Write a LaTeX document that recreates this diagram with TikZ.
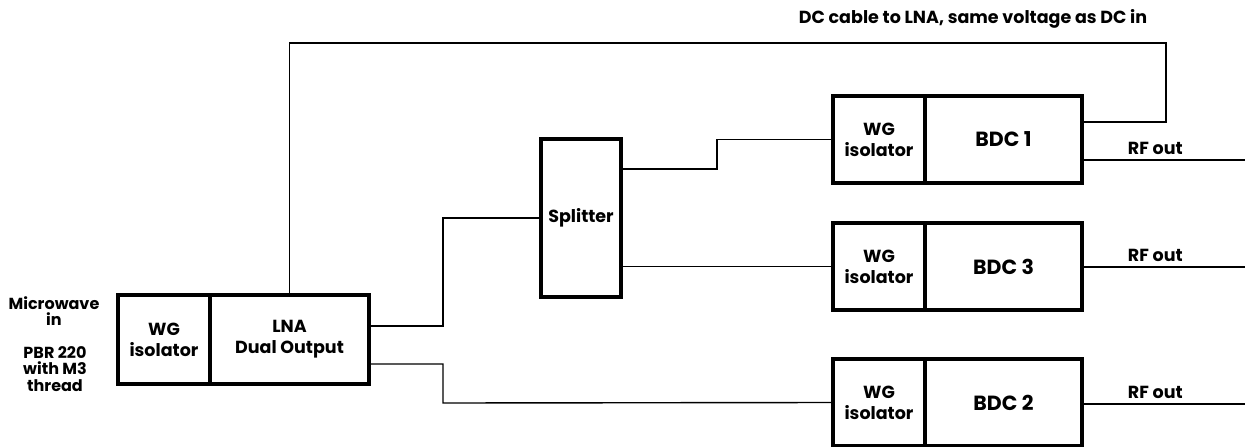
\documentclass[tikz,border=0pt]{standalone}
\usepackage{fontspec}
\setmainfont{Poppins}
\usetikzlibrary{positioning}

\begin{document}
\begin{tikzpicture}[x=1pt,y=-1pt,
  box/.style={draw,line width=3.5pt,outer sep=0pt,inner sep=0pt,align=center,
    font=\bfseries\fontsize{17.5}{21}\selectfont},
  bdc/.style={box,minimum width=157pt,minimum height=87pt,font=\bfseries\fontsize{20.5}{22}\selectfont},
  wire/.style={line width=1.4pt},
  lbl/.style={font=\bfseries\fontsize{16}{16.5}\selectfont,align=center,inner sep=0pt}]
  \useasboundingbox (0,0) rectangle (1245,447);
  % input chain
  \node[box,minimum width=92pt,minimum height=89pt] (isoin) at (164,339.5) {WG\\isolator};
  \node[box,minimum width=159pt,minimum height=89pt,right=0pt of isoin] (lna) {LNA\\Dual Output};
  \node[box,minimum width=80pt,minimum height=158pt] (split) at (581,218) {Splitter};
  % converters
  \node[box,minimum width=92pt,minimum height=87pt] (iso1) at (879,139.5) {WG\\isolator};
  \node[bdc,right=0pt of iso1] (bdc1) {BDC 1};
  \node[box,minimum width=92pt,minimum height=87pt] (iso3) at (879,266.5) {WG\\isolator};
  \node[bdc,right=0pt of iso3] (bdc3) {BDC 3};
  \node[box,minimum width=92pt,minimum height=87pt] (iso2) at (879,402.5) {WG\\isolator};
  \node[bdc,right=0pt of iso2] (bdc2) {BDC 2};
  % labels
  \node[lbl] (mwin) at (54,311) {Microwave\\in};
  \node[lbl] (pbr) at (55,369) {PBR 220\\with M3\\thread};
  \node[lbl,font=\bfseries\fontsize{17.5}{18}\selectfont] (dc) at (973,19) {DC cable to LNA, same voltage as DC in};
  % wiring
  \draw[wire] (lna.east |- 0,326) -| (443,218) -- (split.west);
  \draw[wire] (lna.east |- 0,364) -| (443,403) -- (iso2.west);
  \draw[wire] (split.east |- 0,169) -| (717,139.5) -- (iso1.west);
  \draw[wire] (split.east |- iso3.west) -- (iso3.west);
  \draw[wire] (lna.north) |- (1166,43) |- (bdc1.east |- 0,122);
  \coordinate (rf1) at (1245,160);
  \coordinate (rf3) at (1245,267);
  \coordinate (rf2) at (1245,404);
  \draw[wire] (bdc1.east |- rf1) -- (rf1) node[lbl,font=\bfseries\fontsize{17.5}{18}\selectfont,pos=0.45,above=5pt] {RF out};
  \draw[wire] (bdc3.east |- rf3) -- (rf3) node[lbl,font=\bfseries\fontsize{17.5}{18}\selectfont,pos=0.45,above=5pt] {RF out};
  \draw[wire] (bdc2.east |- rf2) -- (rf2) node[lbl,font=\bfseries\fontsize{17.5}{18}\selectfont,pos=0.45,above=5pt] {RF out};
\end{tikzpicture}
\end{document}
